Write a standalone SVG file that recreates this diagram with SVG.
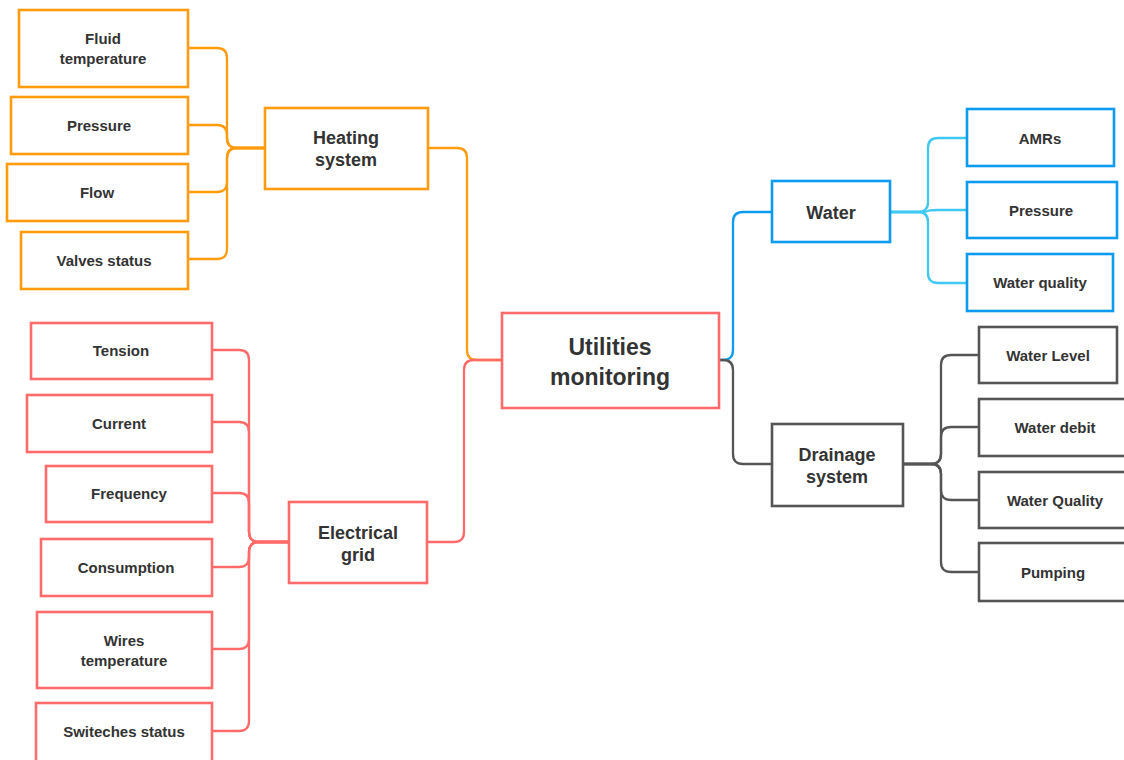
<svg xmlns="http://www.w3.org/2000/svg" width="1124" height="760" viewBox="0 0 1124 760">
<style>
rect{fill:#fff;stroke-width:2.6}
.o rect{stroke:#FF9B0F}
.r rect{stroke:#FF6B6B}
.b rect{stroke:#0D9BEF}
.g rect{stroke:#555}
path{fill:none;stroke-width:2.3}
text{font-family:"Liberation Sans",Arial,sans-serif;font-weight:bold;fill:#333;text-anchor:middle}
.s{font-size:15px}
.m{font-size:18px}
.l{font-size:23px}
</style>
<rect x="0" y="0" width="1124" height="760" style="fill:#fff;stroke:none"/>
<g id="connectors">
<g stroke="#FF9B0F">
<path d="M428,148 H457 Q467,148 467,158 V350 Q467,360 477,360 H502"/>
<path d="M265,148 H237 Q227,148 227,138 V58 Q227,48 217,48 H188"/>
<path d="M265,148 H237 Q227,148 227,138 V135 Q227,125 217,125 H188"/>
<path d="M265,148 H237 Q227,148 227,158 V182 Q227,192 217,192 H188"/>
<path d="M265,148 H237 Q227,148 227,158 V249 Q227,259 217,259 H188"/>
</g>
<g stroke="#FF6B6B">
<path d="M427,542 H454 Q464,542 464,532 V370 Q464,360 474,360 H502"/>
<path d="M289,542 H259 Q249,542 249,532 V360 Q249,350 239,350 H212"/>
<path d="M289,542 H259 Q249,542 249,532 V432 Q249,422 239,422 H212"/>
<path d="M289,542 H259 Q249,542 249,532 V503 Q249,493 239,493 H212"/>
<path d="M289,542 H259 Q249,542 249,552 V557 Q249,567 239,567 H212"/>
<path d="M289,542 H259 Q249,542 249,552 V639 Q249,649 239,649 H212"/>
<path d="M289,542 H259 Q249,542 249,552 V721 Q249,731 239,731 H212"/>
</g>
<g stroke="#0D9BEF">
<path d="M719,360 H723 Q733,360 733,350 V222 Q733,212 743,212 H772"/>
</g>
<g stroke="#3FC8F2">
<path d="M890,212 H918 Q928,212 928,202 V148 Q928,138 938,138 H967"/>
<path d="M890,212 H918 Q928,212 928,211 Q928,210 938,210 H967"/>
<path d="M890,212 H918 Q928,212 928,222 V273 Q928,283 938,283 H967"/>
</g>
<g stroke="#555">
<path d="M719,360 H723 Q733,360 733,370 V454 Q733,464 743,464 H772"/>
<path d="M903,464 H931 Q941,464 941,454 V365 Q941,355 951,355 H979"/>
<path d="M903,464 H931 Q941,464 941,454 V437 Q941,427 951,427 H979"/>
<path d="M903,464 H931 Q941,464 941,474 V490 Q941,500 951,500 H979"/>
<path d="M903,464 H931 Q941,464 941,474 V562 Q941,572 951,572 H979"/>
</g>
</g>
<g id="center" class="r"><rect x="502" y="313" width="217" height="95"/><text class="l" x="610" y="355">Utilities</text><text class="l" x="610" y="385">monitoring</text></g>
<g id="heating" class="o"><rect x="265" y="108" width="163" height="81"/><text class="m" x="346" y="144">Heating</text><text class="m" x="346" y="166">system</text></g>
<g id="fluid-temperature" class="o"><rect x="19" y="10" width="169" height="77"/><text class="s" x="103" y="44">Fluid</text><text class="s" x="103" y="64">temperature</text></g>
<g id="heating-pressure" class="o"><rect x="11" y="97" width="177" height="57"/><text class="s" x="99" y="131">Pressure</text></g>
<g id="flow" class="o"><rect x="7" y="164" width="181" height="57"/><text class="s" x="97" y="198">Flow</text></g>
<g id="valves-status" class="o"><rect x="21" y="232" width="167" height="57"/><text class="s" x="104" y="266">Valves status</text></g>
<g id="electrical" class="r"><rect x="289" y="502" width="138" height="81"/><text class="m" x="358" y="539">Electrical</text><text class="m" x="358" y="561">grid</text></g>
<g id="tension" class="r"><rect x="31" y="323" width="181" height="56"/><text class="s" x="121" y="356">Tension</text></g>
<g id="current" class="r"><rect x="27" y="395" width="185" height="57"/><text class="s" x="119" y="429">Current</text></g>
<g id="frequency" class="r"><rect x="46" y="466" width="166" height="56"/><text class="s" x="129" y="499">Frequency</text></g>
<g id="consumption" class="r"><rect x="41" y="539" width="171" height="57"/><text class="s" x="126" y="573">Consumption</text></g>
<g id="wires-temperature" class="r"><rect x="37" y="612" width="175" height="76"/><text class="s" x="124" y="646">Wires</text><text class="s" x="124" y="666">temperature</text></g>
<g id="switches-status" class="r"><rect x="36" y="703" width="176" height="60"/><text class="s" x="124" y="737">Switeches status</text></g>
<g id="water" class="b"><rect x="772" y="181" width="118" height="61"/><text class="m" x="831" y="219">Water</text></g>
<g id="amrs" class="b"><rect x="967" y="109" width="147" height="57"/><text class="s" x="1040" y="144">AMRs</text></g>
<g id="water-pressure" class="b"><rect x="967" y="182" width="150" height="56"/><text class="s" x="1041" y="216">Pressure</text></g>
<g id="water-quality" class="b"><rect x="967" y="254" width="146" height="57"/><text class="s" x="1040" y="288">Water quality</text></g>
<g id="drainage" class="g"><rect x="772" y="424" width="131" height="82"/><text class="m" x="837" y="461">Drainage</text><text class="m" x="837" y="483">system</text></g>
<g id="water-level" class="g"><rect x="979" y="327" width="138" height="56"/><text class="s" x="1048" y="361">Water Level</text></g>
<g id="water-debit" class="g"><rect x="979" y="399" width="150" height="57"/><text class="s" x="1055" y="433">Water debit</text></g>
<g id="drainage-water-quality" class="g"><rect x="979" y="472" width="150" height="56"/><text class="s" x="1055" y="506">Water Quality</text></g>
<g id="pumping" class="g"><rect x="979" y="543" width="150" height="58"/><text class="s" x="1053" y="578">Pumping</text></g>
</svg>
